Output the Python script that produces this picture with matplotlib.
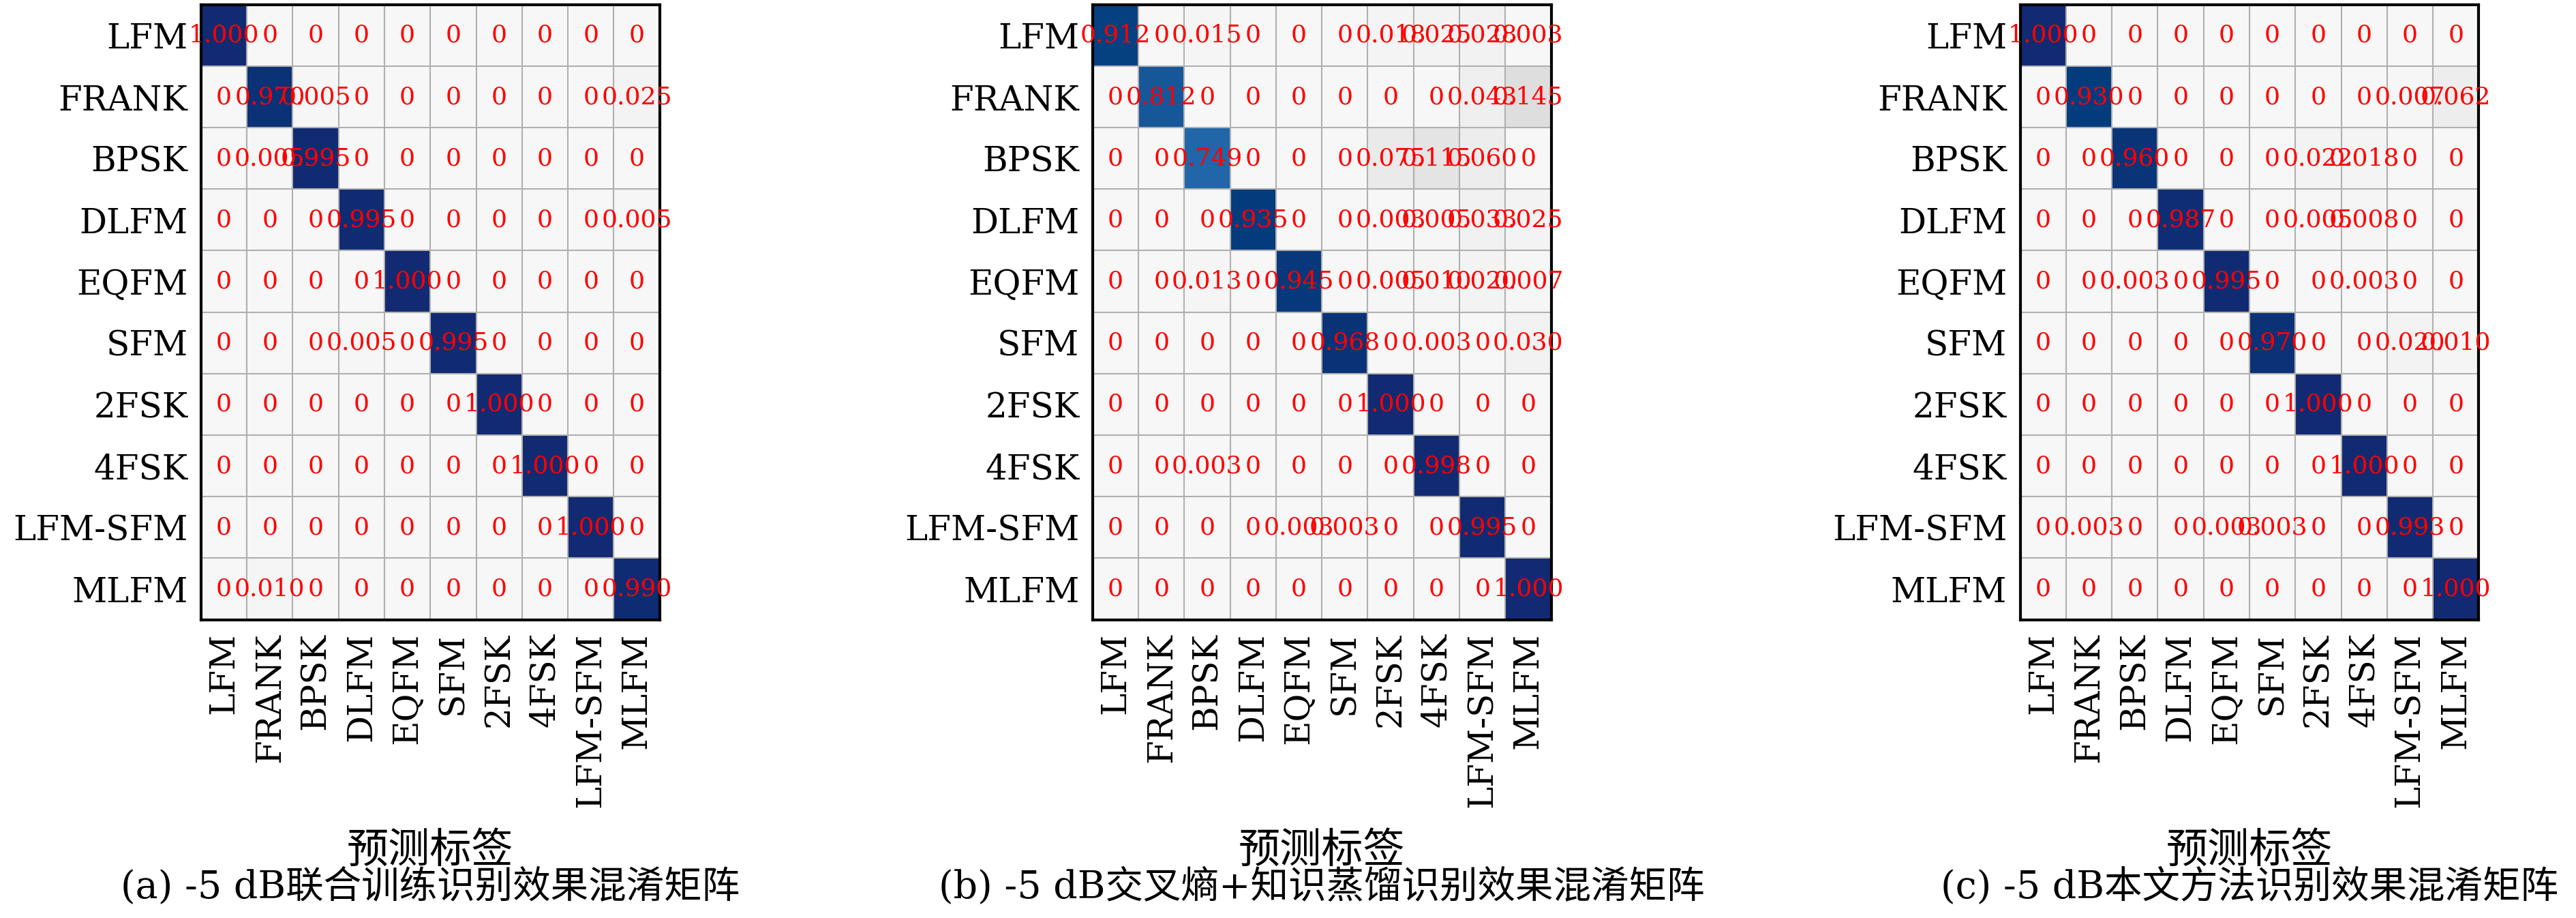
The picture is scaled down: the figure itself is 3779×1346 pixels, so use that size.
#!/usr/bin/env python

import numpy as np
import matplotlib
matplotlib.use('Agg')
import matplotlib.pyplot as plt
from matplotlib.colors import LinearSegmentedColormap

'''Class names'''
labels = ['LFM', 'FRANK', 'BPSK', 'DLFM', 'EQFM', 'SFM', '2FSK', '4FSK', 'LFM-SFM', 'MLFM']

'''Confusion matrices'''
cm_a = np.array([
	[1.000, 0, 0, 0, 0, 0, 0, 0, 0, 0],
	[0, 0.970, 0.005, 0, 0, 0, 0, 0, 0, 0.025],
	[0, 0.005, 0.995, 0, 0, 0, 0, 0, 0, 0],
	[0, 0, 0, 0.995, 0, 0, 0, 0, 0, 0.005],
	[0, 0, 0, 0, 1.000, 0, 0, 0, 0, 0],
	[0, 0, 0, 0.005, 0, 0.995, 0, 0, 0, 0],
	[0, 0, 0, 0, 0, 0, 1.000, 0, 0, 0],
	[0, 0, 0, 0, 0, 0, 0, 1.000, 0, 0],
	[0, 0, 0, 0, 0, 0, 0, 0, 1.000, 0],
	[0, 0.010, 0, 0, 0, 0, 0, 0, 0, 0.990]])
cm_b = np.array([
	[0.912, 0, 0.015, 0, 0, 0, 0.018, 0.025, 0.028, 0.003],
	[0, 0.812, 0, 0, 0, 0, 0, 0, 0.043, 0.145],
	[0, 0, 0.749, 0, 0, 0, 0.075, 0.115, 0.060, 0],
	[0, 0, 0, 0.935, 0, 0, 0.003, 0.005, 0.033, 0.025],
	[0, 0, 0.013, 0, 0.945, 0, 0.005, 0.010, 0.020, 0.007],
	[0, 0, 0, 0, 0, 0.968, 0, 0.003, 0, 0.030],
	[0, 0, 0, 0, 0, 0, 1.000, 0, 0, 0],
	[0, 0, 0.003, 0, 0, 0, 0, 0.998, 0, 0],
	[0, 0, 0, 0, 0.003, 0.003, 0, 0, 0.995, 0],
	[0, 0, 0, 0, 0, 0, 0, 0, 0, 1.000]])
cm_c = np.array([
	[1.000, 0, 0, 0, 0, 0, 0, 0, 0, 0],
	[0, 0.930, 0, 0, 0, 0, 0, 0, 0.007, 0.062],
	[0, 0, 0.960, 0, 0, 0, 0.022, 0.018, 0, 0],
	[0, 0, 0, 0.987, 0, 0, 0.005, 0.008, 0, 0],
	[0, 0, 0.003, 0, 0.995, 0, 0, 0.003, 0, 0],
	[0, 0, 0, 0, 0, 0.970, 0, 0, 0.020, 0.010],
	[0, 0, 0, 0, 0, 0, 1.000, 0, 0, 0],
	[0, 0, 0, 0, 0, 0, 0, 1.000, 0, 0],
	[0, 0.003, 0, 0, 0.003, 0.003, 0, 0, 0.993, 0],
	[0, 0, 0, 0, 0, 0, 0, 0, 0, 1.000]])
captions = ['(a) -5 dB联合训练识别效果混淆矩阵', '(b) -5 dB交叉熵+知识蒸馏识别效果混淆矩阵', '(c) -5 dB本文方法识别效果混淆矩阵']

fonts = ['DejaVu Serif', 'Noto Sans CJK SC']	#serif text, CJK fallback
plt.rcParams['font.family'] = fonts

cmap = LinearSegmentedColormap.from_list('gb', [(0, '#f7f7f7'), (0.15, '#dedede'), (0.75, '#2066a8'), (0.93, '#033d7e'), (1, '#112a72')])

fig = plt.figure(figsize=(37.8, 13.46), dpi=100)
lefts = [0.078, 0.424, 0.784]
for k, cm in enumerate([cm_a, cm_b, cm_c]):
	ax = fig.add_axes([lefts[k], 0.325, 0.178, 0.67])
	ax.imshow(cm, cmap=cmap, vmin=0, vmax=1, aspect='auto')
	n = len(labels)
	for i in range(n):	#write value into each cell
		for j in range(n):
			v = cm[i, j]
			txt = '0' if v == 0 else '%.3f' % v
			ax.text(j, i, txt, ha='center', va='center', color='red', fontsize=26)
	ax.set_xticks(np.arange(n))
	ax.set_yticks(np.arange(n))
	ax.set_xticklabels(labels, rotation=90, fontsize=36)
	ax.set_yticklabels(labels, fontsize=36)
	ax.set_xticks(np.arange(n + 1) - 0.5, minor=True)
	ax.set_yticks(np.arange(n + 1) - 0.5, minor=True)
	ax.grid(which='minor', color='#b0b0b0', linewidth=1.5)
	ax.tick_params(which='both', length=0, pad=14)
	for s in ax.spines.values():
		s.set_linewidth(3)
	ax.set_xlabel('预测标签', fontsize=44, labelpad=24)
	if k == 0:
		ax.set_ylabel('真实标签', fontsize=44, labelpad=10)
	fig.text(lefts[k] + 0.089, 0.022, captions[k], ha='center', fontsize=40)

fig.savefig('out.png', dpi=100)
